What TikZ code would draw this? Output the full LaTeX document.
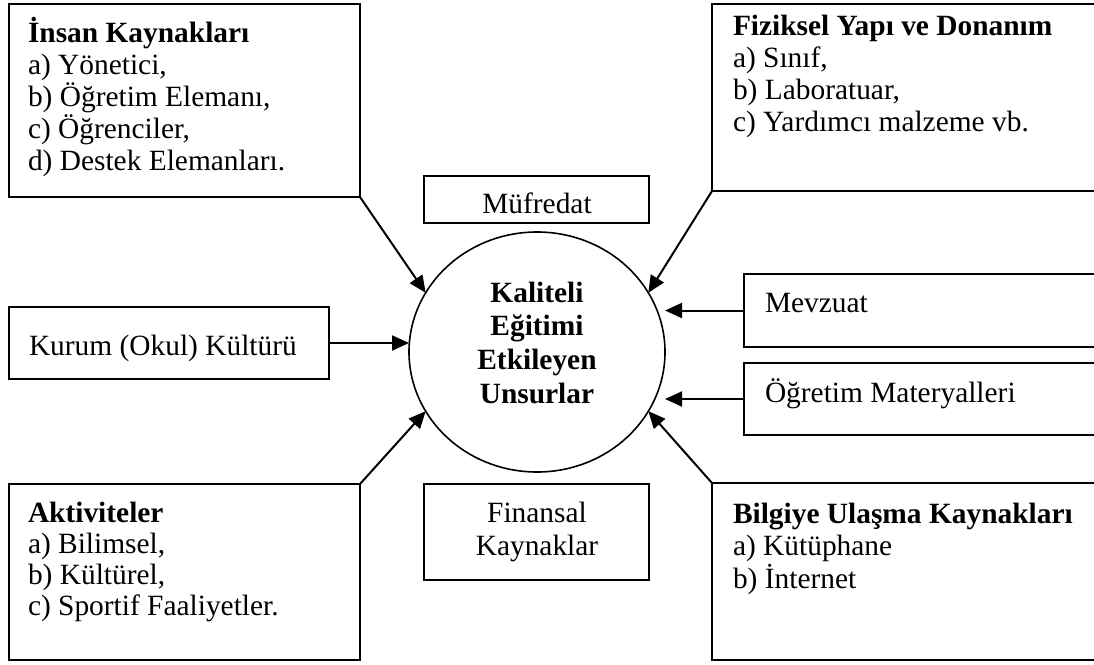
\documentclass[tikz,border=0pt]{standalone}
\usepackage{fontspec}
\setmainfont{Liberation Serif}
\usetikzlibrary{arrows.meta,shapes.geometric}
\newcommand{\lftlines}[2]{\vtop{\baselineskip=#1pt\lineskiplimit=-100pt\halign{##\hfil\cr #2\crcr}}}
\newcommand{\ctrlines}[2]{\vtop{\baselineskip=#1pt\lineskiplimit=-100pt\halign{\hfil##\hfil\cr #2\crcr}}}
\begin{document}
\begin{tikzpicture}[x=1pt,y=-1pt,
  box/.style={draw,line width=2pt,inner sep=0pt,outer sep=0pt,anchor=north west},
  txt/.style={inner sep=0pt,outer sep=0pt,font=\fontsize{29.4}{32}\selectfont},
  arr/.style={line width=2pt,-{Triangle[length=17pt,width=15pt]}}]
\useasboundingbox (0,0) rectangle (1094,664);
% boxes
\node[box,minimum width=351pt,minimum height=193pt] (insan) at (9,4) {};
\node[box,minimum width=400pt,minimum height=187pt] (fizik) at (712,4) {};
\node[box,minimum width=225pt,minimum height=47pt] (mufredat) at (424,176) {};
\node[draw,ellipse,line width=1.6pt,minimum width=256pt,minimum height=240pt,inner sep=0pt,outer sep=0pt] (c) at (537,352) {};
\node[box,minimum width=320pt,minimum height=72pt] (kurum) at (9,307) {};
\node[box,minimum width=370pt,minimum height=73pt] (mevzuat) at (744,274) {};
\node[box,minimum width=370pt,minimum height=72pt] (ogretim) at (744,363) {};
\node[box,minimum width=351pt,minimum height=176pt] (akt) at (9,484) {};
\node[box,minimum width=400pt,minimum height=177pt] (bilgi) at (712,483) {};
\node[box,minimum width=225pt,minimum height=96pt] (finans) at (424,484) {};
% texts
\node[txt,anchor=base west] (insanT) at (28,42) {\lftlines{32}{\textbf{İnsan Kaynakları}\cr a) Yönetici,\cr b) Öğretim Elemanı,\cr c) Öğrenciler,\cr d) Destek Elemanları.}};
\node[txt,anchor=base west] (fizikT) at (733,35) {\lftlines{32.3}{\textbf{Fiziksel Yapı ve Donanım}\cr a) Sınıf,\cr b) Laboratuar,\cr c) Yardımcı malzeme vb.}};
\node[txt,anchor=base] (mufT) at (537,213) {Müfredat};
\node[txt,anchor=base] (cT) at (537,302) {\ctrlines{33.7}{\textbf{Kaliteli}\cr \textbf{Eğitimi}\cr \textbf{Etkileyen}\cr \textbf{Unsurlar}}};
\node[txt,anchor=base west] (kurumT) at (29,355) {Kurum (Okul) Kültürü};
\node[txt,anchor=base west] (mevzuatT) at (765,312) {Mevzuat};
\node[txt,anchor=base west] (ogretimT) at (765,402) {Öğretim Materyalleri};
\node[txt,anchor=base west] (aktT) at (28,522) {\lftlines{31}{\textbf{Aktiviteler}\cr a) Bilimsel,\cr b) Kültürel,\cr c) Sportif Faaliyetler.}};
\node[txt,anchor=base west] (bilgiT) at (733,523) {\lftlines{32.5}{\textbf{Bilgiye Ulaşma Kaynakları}\cr a) Kütüphane\cr b) İnternet}};
\node[txt,anchor=base] (finansT) at (537,522) {\ctrlines{33}{Finansal\cr Kaynaklar}};
% arrows
\draw[arr] (insan.south east) -- (c.152);
\draw[arr] (fizik.south west) -- (c.28);
\draw[arr] (akt.north east) -- (c.208);
\draw[arr] (bilgi.north west) -- (c.332);
\draw[arr] (kurum.east) -- (kurum.east -| c.west);
\draw[arr] (mevzuat.west) -- (mevzuat.west -| c.east);
\draw[arr] (ogretim.west) -- (ogretim.west -| c.east);
\end{tikzpicture}
\end{document}
